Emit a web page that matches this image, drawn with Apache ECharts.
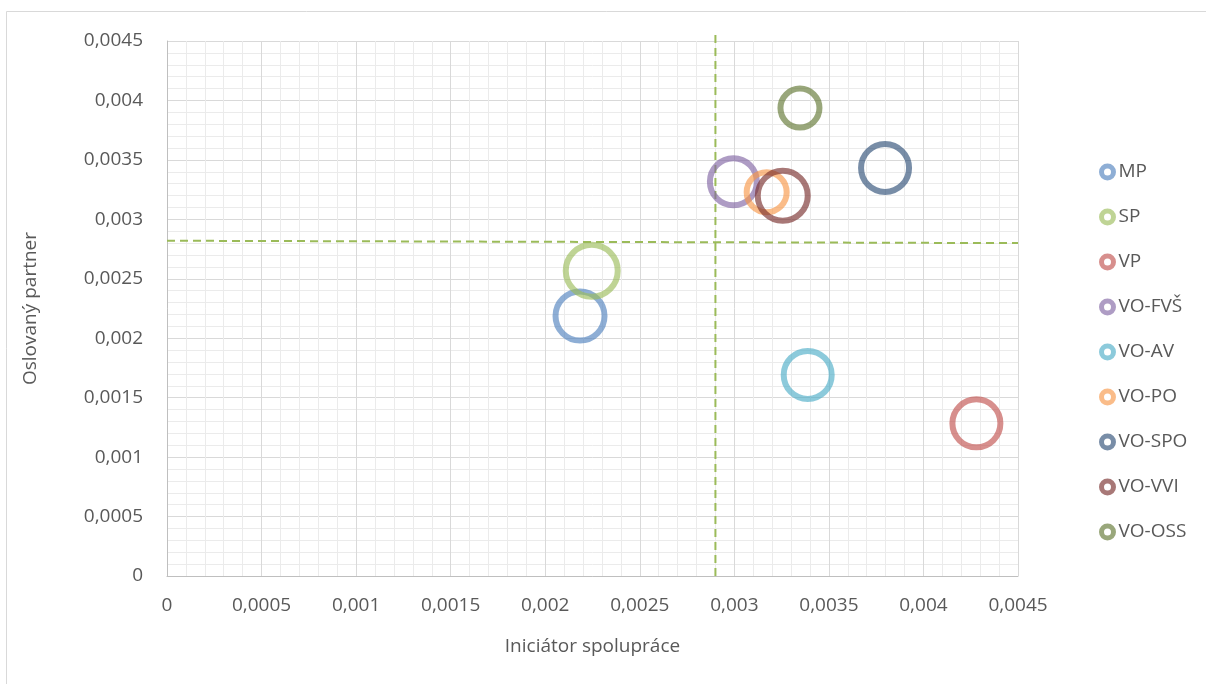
<!DOCTYPE html>
<html>
<head>
<meta charset="utf-8">
<script src="https://cdn.jsdelivr.net/npm/echarts@6/dist/echarts.min.js"></script>
<style>
  html, body { margin: 0; padding: 0; background: #fff; }
  #chart { width: 1206px; height: 684px; }
</style>
</head>
<body>
<div id="chart"></div>
<script>
// Partner categories and their positions (initiator vs. addressed partner)
const categories = ['MP', 'SP', 'VP', 'VO-FVŠ', 'VO-AV', 'VO-PO', 'VO-SPO', 'VO-VVI', 'VO-OSS'];
const initiator = [0.002184, 0.002246, 0.004280, 0.002995, 0.003388, 0.003171, 0.003797, 0.003256, 0.003347];
const addressed = [0.002187, 0.002568, 0.001284, 0.003317, 0.001691, 0.003227, 0.003432, 0.003199, 0.003936];
const bubbleSize = [49, 52, 48, 47, 48, 40, 48, 50, 39];
const colors = ['#4F81BD', '#9BBB59', '#C0504D', '#8064A2', '#4BACC6', '#F79646', '#2C4D75', '#772C2A', '#5F7530'];

// Average reference lines
const avgVertical = [[0.0029, 0], [0.0029, 0.00457]];
const avgHorizontal = [[0, 0.00282], [0.0045, 0.0028]];

const FONT = 'Open Sans';
const TEXT = '#595959';

function rgba(hex, a) {
  const n = parseInt(hex.slice(1), 16);
  return 'rgba(' + (n >> 16) + ',' + ((n >> 8) & 255) + ',' + (n & 255) + ',' + a + ')';
}
function fmt(v) {
  return String(+v.toFixed(6)).replace('.', ',');
}

const series = categories.map((name, i) => ({
  name: name,
  type: 'scatter',
  symbol: 'circle',
  symbolSize: (v) => v[2],
  data: [[initiator[i], addressed[i], bubbleSize[i]]],
  itemStyle: { color: 'rgba(0,0,0,0)', borderColor: rgba(colors[i], 0.8), borderWidth: 6 },
  emphasis: { disabled: true },
  z: 3
}));

const dashStyle = { color: '#9BBB59', width: 2, type: [8, 5] };
series.push({
  type: 'line', data: avgVertical, symbol: 'none', clip: false,
  lineStyle: dashStyle, silent: true, z: 2
});
series.push({
  type: 'line', data: avgHorizontal, symbol: 'none',
  lineStyle: dashStyle, silent: true, z: 2
});

const axisCommon = {
  type: 'value',
  min: 0, max: 0.0045, interval: 0.0005,
  axisLine: { show: true, lineStyle: { color: '#BFBFBF', width: 1 } },
  axisTick: { show: false },
  splitLine: { show: true, lineStyle: { color: '#D9D9D9', width: 1 } },
  minorTick: { show: false, splitNumber: 5 },
  minorSplitLine: { show: true, lineStyle: { color: '#EBEBEB', width: 1 } },
  nameLocation: 'middle',
  nameTextStyle: { color: TEXT, fontFamily: FONT, fontSize: 19 }
};

const chart = echarts.init(document.getElementById('chart'), null, { renderer: 'canvas' });
chart.setOption({
  animation: false,
  backgroundColor: '#fff',
  color: colors,
  grid: { left: 167, right: 188, top: 41, bottom: 108, containLabel: false },
  xAxis: Object.assign({}, axisCommon, {
    name: 'Iniciátor spolupráce',
    nameGap: 61,
    axisLabel: { color: TEXT, fontFamily: FONT, fontSize: 19, margin: 20, formatter: fmt }
  }),
  yAxis: Object.assign({}, axisCommon, {
    name: 'Oslovaný partner',
    nameGap: 127,
    axisLabel: { color: TEXT, fontFamily: FONT, fontSize: 19, margin: 24, formatter: fmt }
  }),
  legend: {
    data: categories.map((name, i) => ({
      name: name,
      icon: 'circle',
      itemStyle: { color: '#fff', borderColor: rgba(colors[i], 0.8), borderWidth: 5 }
    })),
    orient: 'vertical',
    left: 1094,
    top: 157,
    itemWidth: 12,
    itemHeight: 12,
    itemGap: 25,
    selectedMode: false,
    textStyle: { color: TEXT, fontFamily: FONT, fontSize: 19, lineHeight: 20 }
  },
  graphic: [{
    type: 'rect',
    shape: { x: 6.5, y: 11.5, width: 1400, height: 900 },
    style: { fill: 'none', stroke: '#D9D9D9', lineWidth: 1 },
    silent: true
  }],
  series: series
});
</script>
</body>
</html>
